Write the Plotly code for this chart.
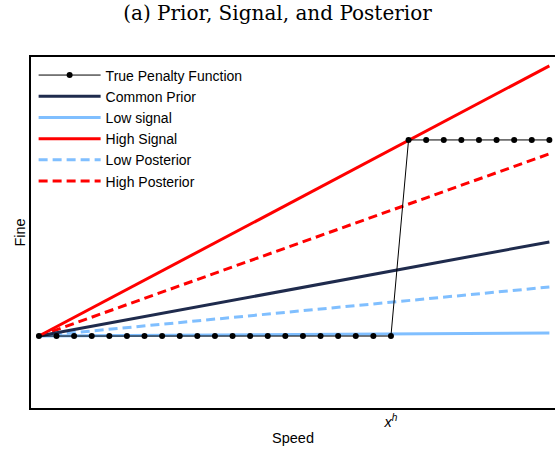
import plotly.graph_objects as go

# True penalty function: flat at 0 up to the threshold, then a jump
speed = list(range(30))
penalty = [0.0] * 21 + [1.0] * 9
threshold = 20

# straight lines from the origin: start and end speed, start and end fine
line_x = [0, 29]
prior_y = [0, 0.48]
low_signal_y = [0, 0.015]
high_signal_y = [0, 1.378]
low_post_y = [0, 0.25]
high_post_y = [0, 0.929]

navy = "#1f2b4d"
light_blue = "#80bfff"
red = "#ff0000"
sans = "Liberation Sans, Arial, sans-serif"

fig = go.Figure()

fig.add_trace(go.Scatter(x=line_x, y=low_signal_y, mode="lines", name="Low signal",
                         line=dict(color=light_blue, width=3), legendrank=3))
fig.add_trace(go.Scatter(x=line_x, y=high_post_y, mode="lines", name="High Posterior",
                         line=dict(color=red, width=3, dash="9px,5px"), legendrank=6))
fig.add_trace(go.Scatter(x=line_x, y=low_post_y, mode="lines", name="Low Posterior",
                         line=dict(color=light_blue, width=3, dash="9px,5px"), legendrank=5))
fig.add_trace(go.Scatter(x=line_x, y=prior_y, mode="lines", name="Common Prior",
                         line=dict(color=navy, width=3), legendrank=2))
fig.add_trace(go.Scatter(x=line_x, y=high_signal_y, mode="lines", name="High Signal",
                         line=dict(color=red, width=3), legendrank=4))
fig.add_trace(go.Scatter(x=speed, y=penalty, mode="lines+markers", name="True Penalty Function",
                         line=dict(color="black", width=1),
                         marker=dict(color="black", size=6), legendrank=1))

fig.update_layout(
    width=555, height=450,
    margin=dict(l=31, r=0, t=57, b=42),
    plot_bgcolor="white", paper_bgcolor="white",
    font=dict(family=sans, size=14.5, color="black"),
    title=dict(text="(a) Prior, Signal, and Posterior", x=0.5, xanchor="center",
               y=1 - 13 / 450, yanchor="middle",
               font=dict(family="DejaVu Serif, serif", size=20, color="black")),
    legend=dict(x=0.005, y=0.993, xanchor="left", yanchor="top",
                bgcolor="rgba(0,0,0,0)", font=dict(size=14), itemwidth=62),
    showlegend=True,
)

fig.update_xaxes(range=[-0.45, 29.32], showgrid=False, zeroline=False,
                 showline=True, linecolor="black", linewidth=1.5, mirror=True,
                 tickvals=[threshold], ticktext=["<i>x<sup>h</sup></i>"], ticks="",
                 tickfont=dict(size=14.5),
                 title=dict(text="Speed", font=dict(size=14.5), standoff=4))
fig.update_yaxes(range=[-0.367, 1.423], showgrid=False, zeroline=False,
                 showline=True, linecolor="black", linewidth=1.5,
                 showticklabels=False, ticks="",
                 title=dict(text="Fine", font=dict(size=14.5), standoff=0))

# drop the default page margin so the figure sits at the window's corner
fig.write_html("out.html", config={"displayModeBar": False},
               post_script="document.body.style.margin='0';")
